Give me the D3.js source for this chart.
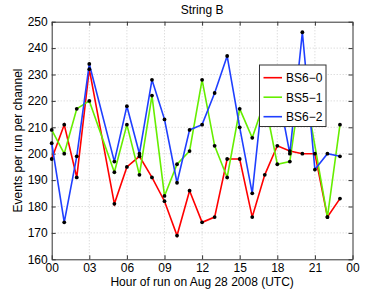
<!DOCTYPE html>
<html lang="en">
<head>
    <meta charset="UTF-8">
    <title>String B</title>
    <script src="https://d3js.org/d3.v7.min.js"></script>
    <style>
        body { margin: 0; background: #fff; }
        svg text { font-family: "Liberation Sans", Arial, Helvetica, sans-serif; font-size: 12px; fill: #000; }
        .grid line { stroke: #bbb; stroke-width: 0.7; stroke-dasharray: 1,2; }
    </style>
</head>
<body>
    <svg id="chart"></svg>
    <script>
        const width = 391;
        const height = 294;

        // hour of run, 0..23 (hour 4 missing for all channels)
        const hours = d3.range(0, 24);
        const bs60 = [198, 211, 191, 232, null, 181, 195, 199, 191, 182, 169, 186, 174, 176, 198, 198, 176, 192, 203, 201, 200, 200, 176, 183];
        const bs51 = [209, 200, 217, 220, null, 193, 211, 192, 222, 184, 196, 201, 228, 203, 191, 217, 206, 220, 196, 197, 230, null, 176, 211];
        const bs62 = [204, 174, 199, 234, null, 197, 218, 200, 228, 213, 189, 209, 211, 223, 237, 210, 185, 230, 225, 200, 246, 194, 200, 199];
        const seriesNames = ['BS6\u22120', 'BS5\u22121', 'BS6\u22122'];
        const seriesColors = ['#ff0000', '#66ee00', '#1f3fff'];
        const xTicks = [0, 3, 6, 9, 12, 15, 18, 21, 24];
        const yTicks = [160, 170, 180, 190, 200, 210, 220, 230, 240, 250];

        const margin = { left: 51.7, right: 391 - 352.5, top: 21.7, bottom: 294 - 259.3 };

        const svg = d3.select('#chart')
            .attr('width', width)
            .attr('height', height);

        const x = d3.scaleLinear().domain([0, 24]).range([margin.left, width - margin.right]);
        const y = d3.scaleLinear().domain([160, 250]).range([height - margin.bottom, margin.top]);

        // grid
        const grid = svg.append('g').attr('class', 'grid');
        grid.selectAll('.gx').data(xTicks.slice(1, -1)).enter().append('line')
            .attr('x1', d => x(d)).attr('x2', d => x(d))
            .attr('y1', y(160)).attr('y2', y(250));
        grid.selectAll('.gy').data(yTicks.slice(1, -1)).enter().append('line')
            .attr('x1', x(0)).attr('x2', x(24))
            .attr('y1', d => y(d)).attr('y2', d => y(d));

        // axes (ticks inward, on all sides)
        const fmtHour = d => String(d % 24).padStart(2, '0');
        const axisStyle = g => {
            g.select('.domain').attr('stroke', '#333');
            g.selectAll('.tick line').attr('stroke', '#333');
        };
        svg.append('g').attr('transform', `translate(0,${y(160)})`)
            .call(d3.axisBottom(x).tickValues(xTicks).tickFormat(fmtHour).tickSizeInner(-4).tickSizeOuter(0).tickPadding(4))
            .call(axisStyle)
            .call(g => g.selectAll('text').attr('font-size', 12).attr('font-family', null).attr('fill', '#000'));
        svg.append('g').attr('transform', `translate(0,${y(250)})`)
            .call(d3.axisTop(x).tickValues(xTicks).tickFormat('').tickSizeInner(-4).tickSizeOuter(0))
            .call(axisStyle);
        svg.append('g').attr('transform', `translate(${x(0)},0)`)
            .call(d3.axisLeft(y).tickValues(yTicks).tickSizeInner(-4).tickSizeOuter(0).tickPadding(4))
            .call(axisStyle)
            .call(g => g.selectAll('text').attr('font-size', 12).attr('font-family', null).attr('fill', '#000'));
        svg.append('g').attr('transform', `translate(${x(24)},0)`)
            .call(d3.axisRight(y).tickValues(yTicks).tickFormat('').tickSizeInner(-4).tickSizeOuter(0))
            .call(axisStyle);

        // lines
        const allSeries = [bs60, bs51, bs62].map((vals, i) => ({
            name: seriesNames[i],
            color: seriesColors[i],
            points: hours.map((h, j) => ({ h: h, v: vals[j] })).filter(p => p.v !== null)
        }));

        const line = d3.line().x(d => x(d.h)).y(d => y(d.v));

        svg.selectAll('.series').data(allSeries).enter().append('path')
            .attr('d', d => line(d.points))
            .attr('fill', 'none')
            .attr('stroke', d => d.color)
            .attr('stroke-width', 1.6);

        allSeries.forEach(s => {
            svg.selectAll(null).data(s.points).enter().append('circle')
                .attr('cx', d => x(d.h))
                .attr('cy', d => y(d.v))
                .attr('r', 1.9)
                .attr('fill', '#000');
        });

        // titles
        svg.append('text').attr('x', (x(0) + x(24)) / 2).attr('y', 13.5)
            .attr('text-anchor', 'middle').text('String B');
        svg.append('text').attr('x', (x(0) + x(24)) / 2).attr('y', 285.5)
            .attr('text-anchor', 'middle').text('Hour of run on Aug 28 2008 (UTC)');
        svg.append('text')
            .attr('transform', `translate(22,${(y(160) + y(250)) / 2}) rotate(-90)`)
            .attr('text-anchor', 'middle').text('Events per run per channel');

        // legend
        const legend = svg.append('g').attr('transform', 'translate(259.5,65)');
        legend.append('rect').attr('width', 66.5).attr('height', 61.5)
            .attr('fill', '#fff').attr('stroke', '#333').attr('stroke-width', 1);
        const rows = legend.selectAll('.row').data(allSeries).enter().append('g')
            .attr('transform', (d, i) => `translate(0,${12.7 + i * 19.5})`);
        rows.append('line').attr('x1', 4).attr('x2', 22.5)
            .attr('stroke', d => d.color).attr('stroke-width', 1.6);
        rows.append('text').attr('x', 26.5).attr('y', 4.3).text(d => d.name);
    </script>
</body>
</html>
